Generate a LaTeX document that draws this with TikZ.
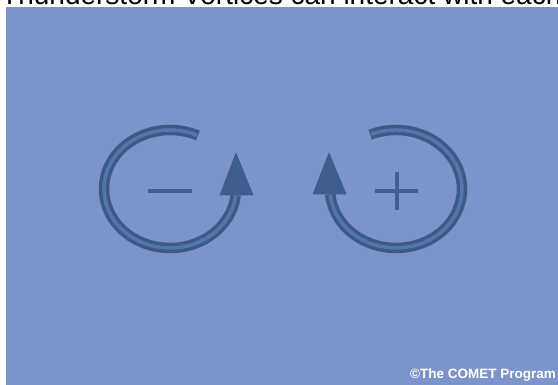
\documentclass[tikz,border=0pt]{standalone}
\usepackage{fontspec}
\setmainfont{Liberation Sans}
\definecolor{bgblue}{HTML}{7D94CA}
\definecolor{ringdark}{HTML}{3A5B88}
\definecolor{ringmid}{HTML}{5575A6}
\definecolor{signcol}{HTML}{3F6090}
\definecolor{headcol}{HTML}{3E5F8E}
\begin{document}
\begin{tikzpicture}[x=1pt,y=-1pt,
  ring/.style={line width=10.5pt, draw=ringdark},
  ringin/.style={line width=3.5pt, draw=ringmid},
  sign/.style={line width=4.5pt, draw=signcol},
  head/.style={fill=headcol, draw=ringdark, line width=0.6pt, line join=round}]
\useasboundingbox (0,0) rectangle (558,385);
\fill[white] (0,0) rectangle (558,385);
\fill[bgblue] (6,7) rectangle (558,385);
\begin{scope}
  \clip (0,0) rectangle (558,7);
  \node[anchor=base west, inner sep=0pt, font=\fontsize{28}{30}\selectfont] (title) at (1,4.5) {Thunderstorm Vortices can interact with each other};
\end{scope}
% left vortex
\coordinate (Lc) at (170,189);
\draw[ring] ([shift={(-65:66 and 59)}]Lc) arc[start angle=-65, end angle=-354, x radius=66, y radius=59];
\draw[ringin] ([shift={(-66:66 and 59)}]Lc) arc[start angle=-66, end angle=-354, x radius=66, y radius=59];
\coordinate (La) at (236,153);
\coordinate (Lb1) at (220,195);
\coordinate (Lb2) at (253,195);
\filldraw[head] (La) -- (Lb2) -- (Lb1) -- cycle;
\coordinate (Lm1) at (148,191);
\coordinate (Lm2) at (192,191);
\draw[sign] (Lm1) -- (Lm2);
% right vortex
\coordinate (Rc) at (396,189);
\draw[ring] ([shift={(-113:66 and 59)}]Rc) arc[start angle=-113, end angle=175, x radius=66, y radius=59];
\draw[ringin] ([shift={(-112:66 and 59)}]Rc) arc[start angle=-112, end angle=175, x radius=66, y radius=59];
\coordinate (Ra) at (329,153);
\coordinate (Rb1) at (313,194);
\coordinate (Rb2) at (346,194);
\filldraw[head] (Ra) -- (Rb2) -- (Rb1) -- cycle;
\coordinate (Rp1) at (375,191);
\coordinate (Rp2) at (418,191);
\coordinate (Rp3) at (397,172);
\coordinate (Rp4) at (397,210);
\draw[sign] (Rp1) -- (Rp2);
\draw[sign] (Rp3) -- (Rp4);
% credit
\node[anchor=base east, inner sep=0pt, text=white, font=\bfseries\fontsize{13.5}{15}\selectfont] (credit) at (556,378) {©The COMET Program};
\end{tikzpicture}
\end{document}
